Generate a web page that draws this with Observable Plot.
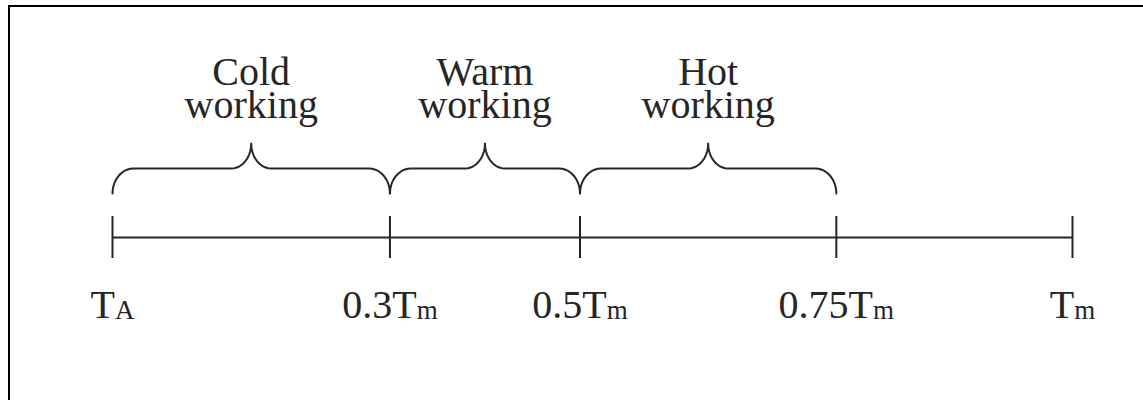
<!DOCTYPE html>
<html><head><meta charset="utf-8">
<script src="https://cdn.jsdelivr.net/npm/d3@7"></script>
<script src="https://cdn.jsdelivr.net/npm/@observablehq/plot@0.6"></script>
<style>
body{margin:0;background:#fff;}
#wrap{position:relative;width:1143px;height:400px;overflow:hidden;}
#frame{position:absolute;left:8px;top:5px;right:0;bottom:0;border-left:2px solid #000;border-top:2px solid #000;}
#chart{position:absolute;left:0;top:0;}
</style></head><body>
<div id="wrap"><div id="frame"></div><div id="chart"></div></div>
<script>
// Data (positions along the temperature axis, as fraction of Tm)
const tickPositions = [0, 0.289, 0.487, 0.754, 1];
const tickLabels = ["T", "0.3T", "0.5T", "0.75T", "T"];
const tickSubscripts = ["A", "m", "m", "m", "m"];
const regionNames = ["Cold\nworking", "Warm\nworking", "Hot\nworking"];
const regionStart = [0, 0.289, 0.487];
const regionEnd = [0.289, 0.487, 0.754];

// Layout
const W = 1143, H = 400;
const xDomain = [0, 1], xRange = [112, 1072];
const axisY = 237, tickHalf = 21, labelBaseline = 317;
const braceBottom = 193, braceTop = 168, bracePeak = 143;
const cornerR = 21, cuspR = 20;
const regionLabelBaseline = 117;
const ink = "#262626";
const font = "Liberation Serif";

const xs = d3.scaleLinear().domain(xDomain).range(xRange);

const ticks = tickPositions.map((p, i) => ({pos: p, label: tickLabels[i], sub: tickSubscripts[i]}));
const regions = regionNames.map((n, i) => ({name: n, start: regionStart[i], end: regionEnd[i], mid: (regionStart[i] + regionEnd[i]) / 2}));

// brace outline built from each region's start/end
function brace(r) {
  const a = xs(r.start), b = xs(r.end), m = (a + b) / 2;
  const ry1 = braceBottom - braceTop, ry2 = braceTop - bracePeak;
  const n = 10, pts = [];
  const push = (px, py) => pts.push({name: r.name, x: xs.invert(px), y: py});
  for (let k = 0; k <= n; k++) { const t = k / n * Math.PI / 2; push(a + cornerR * (1 - Math.cos(t)), braceBottom - ry1 * Math.sin(t)); }
  for (let k = 0; k <= n; k++) { const t = k / n * Math.PI / 2; push(m - cuspR + cuspR * Math.sin(t), braceTop - ry2 * (1 - Math.cos(t))); }
  for (let k = n; k >= 0; k--) { const t = k / n * Math.PI / 2; push(m + cuspR - cuspR * Math.sin(t), braceTop - ry2 * (1 - Math.cos(t))); }
  for (let k = n; k >= 0; k--) { const t = k / n * Math.PI / 2; push(b - cornerR * (1 - Math.cos(t)), braceBottom - ry1 * Math.sin(t)); }
  return pts;
}
const braceData = regions.flatMap(brace);

const chart = Plot.plot({
  width: W, height: H,
  margin: 0,
  style: {background: "transparent", fontFamily: font, color: ink},
  x: {domain: xDomain, range: xRange, axis: null},
  y: {domain: [0, H], range: [0, H], axis: null},
  marks: [
    Plot.ruleY([axisY], {x1: tickPositions[0], x2: tickPositions[tickPositions.length - 1], stroke: ink, strokeWidth: 2}),
    Plot.ruleX(ticks, {x: "pos", y1: axisY - tickHalf, y2: axisY + tickHalf, stroke: ink, strokeWidth: 2}),
    Plot.line(braceData, {x: "x", y: "y", z: "name", stroke: ink, strokeWidth: 2, strokeLinejoin: "round"}),
    Plot.text(regions, {x: "mid", y: regionLabelBaseline, text: "name", lineAnchor: "bottom", lineHeight: 0.82, fontSize: 40, fontFamily: font, fill: ink}),
    Plot.text(ticks, {x: "pos", y: labelBaseline, text: "label", lineAnchor: "bottom", fontSize: 40, fontFamily: font, fill: ink})
  ]
});
document.getElementById("chart").appendChild(chart);

// add subscripts to tick labels (the last text mark's elements)
const allTexts = Array.from(chart.querySelectorAll("text"));
const tickTexts = allTexts.slice(allTexts.length - ticks.length);
tickTexts.forEach((el, i) => {
  const t = ticks[i];
  while (el.firstChild) el.removeChild(el.firstChild);
  const main = document.createElementNS("http://www.w3.org/2000/svg", "tspan");
  main.textContent = t.label;
  const sub = document.createElementNS("http://www.w3.org/2000/svg", "tspan");
  sub.textContent = t.sub;
  sub.setAttribute("font-size", "27");
  sub.setAttribute("dy", "1");
  el.appendChild(main);
  el.appendChild(sub);
});
</script>
</body></html>
